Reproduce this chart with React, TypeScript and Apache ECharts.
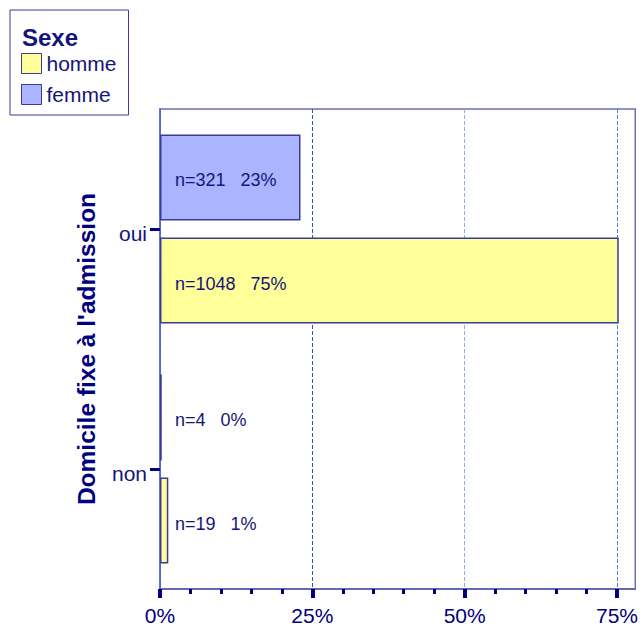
import React, { useEffect, useRef } from "react";
import * as echarts from "echarts";

// Domicile fixe à l'admission, by sex (counts; bars show share of all patients)
const categories = ["non", "oui"];
const hommeCounts = [19, 1048];
const femmeCounts = [4, 321];
const seriesNames = ["homme", "femme"];
const xTickValues = [0, 25, 50, 75];
const xMinorTickValues = [5, 10, 15, 20, 30, 35, 40, 45, 55, 60, 65, 70];
const xMax = 78;

const NAVY = "#14147a";
const SANS = "'Liberation Sans', Arial, sans-serif";

const total = [...hommeCounts, ...femmeCounts].reduce((a, b) => a + b, 0);
const toPct = (n: number) => (n / total) * 100;

function makeSeries(name: string, counts: number[], fill: string) {
  return {
    name,
    type: "bar",
    barWidth: 86,
    barGap: "20%",
    data: counts.map((n) => ({ value: toPct(n), count: n })),
    itemStyle: { color: fill, borderColor: "#3c3c96", borderWidth: 1.5 },
    label: {
      show: true,
      position: "insideLeft",
      distance: 15,
      offset: [0, 3],
      color: NAVY,
      fontFamily: SANS,
      fontSize: 18,
      formatter: (p: any) => `n=${p.data.count}   ${Math.round(p.data.value)}%`,
    },
  };
}

export default function App() {
  const ref = useRef<HTMLDivElement>(null);

  useEffect(() => {
    if (!ref.current) return;
    const chart = echarts.init(ref.current, null, { renderer: "svg" });
    chart.setOption({
      animation: false,
      backgroundColor: "#ffffff",
      textStyle: { fontFamily: SANS },
      grid: {
        left: 160,
        top: 109,
        right: 1.5,
        bottom: 43,
        show: true,
        borderColor: "#6f6fb8",
        borderWidth: 1.5,
      },
      legend: {
        data: seriesNames,
        orient: "vertical",
        left: 10,
        top: 10,
        padding: [43, 12, 10, 11],
        icon: "rect",
        itemWidth: 20,
        itemHeight: 20,
        itemGap: 10,
        itemStyle: { borderColor: "#3c3c96", borderWidth: 1 },
        borderColor: "#3a3aa0",
        borderWidth: 1,
        backgroundColor: "#ffffff",
        textStyle: { color: NAVY, fontSize: 21, fontFamily: SANS },
      },
      graphic: [
        {
          type: "text",
          left: 22,
          top: 25,
          style: {
            text: "Sexe",
            font: `bold 24px ${SANS}`,
            fill: NAVY,
          },
          z: 100,
        },
      ],
      xAxis: [
        {
          type: "value",
          min: 0,
          max: xMax,
          axisLine: { show: true, lineStyle: { color: "#5a5aaa", width: 1.5 } },
          axisTick: {
            show: true,
            customValues: xTickValues,
            length: 9,
            lineStyle: { color: "#000080", width: 4 },
          },
          axisLabel: {
            customValues: xTickValues,
            formatter: "{value}%",
            color: "#000080",
            fontFamily: SANS,
            fontSize: 21,
            margin: 16,
          },
          splitLine: {
            show: true,
            lineStyle: {
              color: ["#5566cc", "#3550b8", "#8fabef", "#4f7fe6", "#6f6fb8"],
              type: [4, 2],
              width: 1,
            },
          },
        },
        {
          type: "value",
          min: 0,
          max: xMax,
          position: "bottom",
          axisLine: { show: false },
          axisTick: {
            show: true,
            customValues: xMinorTickValues,
            length: 5,
            lineStyle: { color: "#000080", width: 3 },
          },
          axisLabel: { show: false },
          splitLine: { show: false },
        },
      ],
      yAxis: {
        type: "category",
        data: categories,
        name: "Domicile fixe à l'admission",
        nameLocation: "middle",
        nameGap: 61,
        nameTextStyle: { color: "#000080", fontSize: 24.5, fontWeight: "bold", fontFamily: SANS },
        axisLine: { show: true, lineStyle: { color: "#4c66d4", width: 1.5 } },
        axisTick: { show: true, alignWithLabel: true, length: 10, lineStyle: { color: "#000080", width: 3 } },
        axisLabel: {
          margin: 13,
          formatter: (v: string) => `{c|${v}}`,
          rich: {
            c: {
              color: NAVY,
              fontFamily: SANS,
              fontSize: 21,
              padding: [9, 0, 0, 0],
            },
          },
        },
        splitLine: { show: false },
      },
      series: [
        makeSeries(seriesNames[1], femmeCounts, "#aab4ff"),
        makeSeries(seriesNames[0], hommeCounts, "#ffff99"),
      ],
    });
    return () => chart.dispose();
  }, []);

  return (
    <div
      ref={ref}
      style={{ position: "fixed", left: 0, top: 0, width: 641, height: 632 }}
    />
  );
}
